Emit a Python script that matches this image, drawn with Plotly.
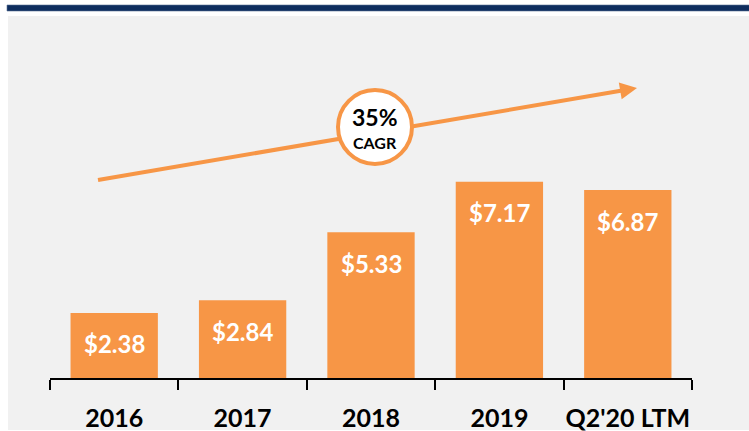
import math
import plotly.graph_objects as go

# Revenue by period ($, shown inside each bar)
periods = ["2016", "2017", "2018", "2019", "Q2'20 LTM"]
revenue = [2.38, 2.84, 5.33, 7.17, 6.87]
cagr_label = "35%"
cagr_caption = "CAGR"

W, H = 749, 431
ML, MR, MT, MB = 50, 57, 30, 53
PW, PH = W - ML - MR, H - MT - MB
Y_MAX = 12.72

ORANGE = "#F79646"
NAVY = "#0E2D5E"
PANEL = "#F1F1F1"
FONT = "Lato"


def px_x(p):
    """Pixel column -> paper x."""
    return (p - ML) / PW


def px_y(p):
    """Pixel row (from top) -> paper y."""
    return (H - MB - p) / PH


fig = go.Figure()
fig.add_trace(go.Bar(
    x=periods,
    y=revenue,
    marker=dict(color=ORANGE, line=dict(width=0)),
    width=0.68,
    hoverinfo="skip",
))

# value labels sitting just below each bar top
annotations = []
for i, v in enumerate(revenue):
    annotations.append(dict(
        x=i, y=v, xref="x", yref="y", yshift=-31,
        xanchor="center", yanchor="middle",
        text=f"${v:.2f}", showarrow=False,
        font=dict(family=FONT, size=24, color="white", weight="bold"),
    ))

shapes = []
# light grey panel behind the chart
shapes.append(dict(type="rect", xref="paper", yref="paper", layer="below",
                   x0=px_x(8), x1=px_x(W + 2), y0=px_y(430), y1=px_y(16),
                   fillcolor=PANEL, line=dict(width=0)))
# navy rule across the top
shapes.append(dict(type="rect", xref="paper", yref="paper", layer="above",
                   x0=px_x(7), x1=px_x(W + 2), y0=px_y(11), y1=px_y(5),
                   fillcolor=NAVY, line=dict(width=0.6, color="#5A7396")))

# growth arrow
sx, sy = 98, 180
tx, ty = 637, 88
dx, dy = tx - sx, ty - sy
L = math.hypot(dx, dy)
ux, uy = dx / L, dy / L
nx, ny = -uy, ux
head_len, head_half = 17, 8.5
bx, by = tx - head_len * ux, ty - head_len * uy
shapes.append(dict(type="line", xref="paper", yref="paper",
                   x0=px_x(sx), y0=px_y(sy), x1=px_x(bx + 2 * ux), y1=px_y(by + 2 * uy),
                   line=dict(color=ORANGE, width=4)))
c1 = (bx + head_half * nx, by + head_half * ny)
c2 = (bx - head_half * nx, by - head_half * ny)
path = (f"M {px_x(tx)},{px_y(ty)} L {px_x(c1[0])},{px_y(c1[1])} "
        f"L {px_x(c2[0])},{px_y(c2[1])} Z")
shapes.append(dict(type="path", xref="paper", yref="paper", path=path,
                   fillcolor=ORANGE, line=dict(width=0)))

# CAGR badge
cx, cy, r = 375, 127, 37
shapes.append(dict(type="circle", xref="paper", yref="paper",
                   xsizemode="pixel", ysizemode="pixel",
                   xanchor=px_x(cx), yanchor=px_y(cy),
                   x0=-r, x1=r, y0=-r, y1=r,
                   fillcolor="white", line=dict(color=ORANGE, width=4)))
annotations.append(dict(x=px_x(cx), y=px_y(117), xref="paper", yref="paper",
                        xanchor="center", yanchor="middle", height=22,
                        text=cagr_label, showarrow=False,
                        font=dict(family=FONT, size=23, color="black", weight="bold")))
annotations.append(dict(x=px_x(cx), y=px_y(142), xref="paper", yref="paper",
                        xanchor="center", yanchor="middle", height=16,
                        text=cagr_caption, showarrow=False,
                        font=dict(family=FONT, size=16, color="black", weight="bold")))

fig.update_layout(
    width=W, height=H, autosize=False,
    margin=dict(l=ML, r=MR, t=MT, b=MB, pad=0, autoexpand=False),
    paper_bgcolor="white",
    plot_bgcolor="rgba(0,0,0,0)",
    showlegend=False,
    bargap=0.32,
    shapes=shapes,
    annotations=annotations,
    xaxis=dict(
        type="category",
        range=[-0.5, len(periods) - 0.5],
        automargin=False,
        showline=True, linecolor="black", linewidth=1.5,
        ticks="outside", tickson="boundaries", ticklen=10,
        tickcolor="black", tickwidth=1.5, tickangle=0,
        ticklabelstandoff=17,
        tickfont=dict(family=FONT, size=25, color="black", weight="bold"),
        showgrid=False, zeroline=False, fixedrange=True,
    ),
    yaxis=dict(
        range=[0, Y_MAX], visible=False, showgrid=False, zeroline=False,
        fixedrange=True, automargin=False,
    ),
)

fig.write_html("out.html", config={"displayModeBar": False})
